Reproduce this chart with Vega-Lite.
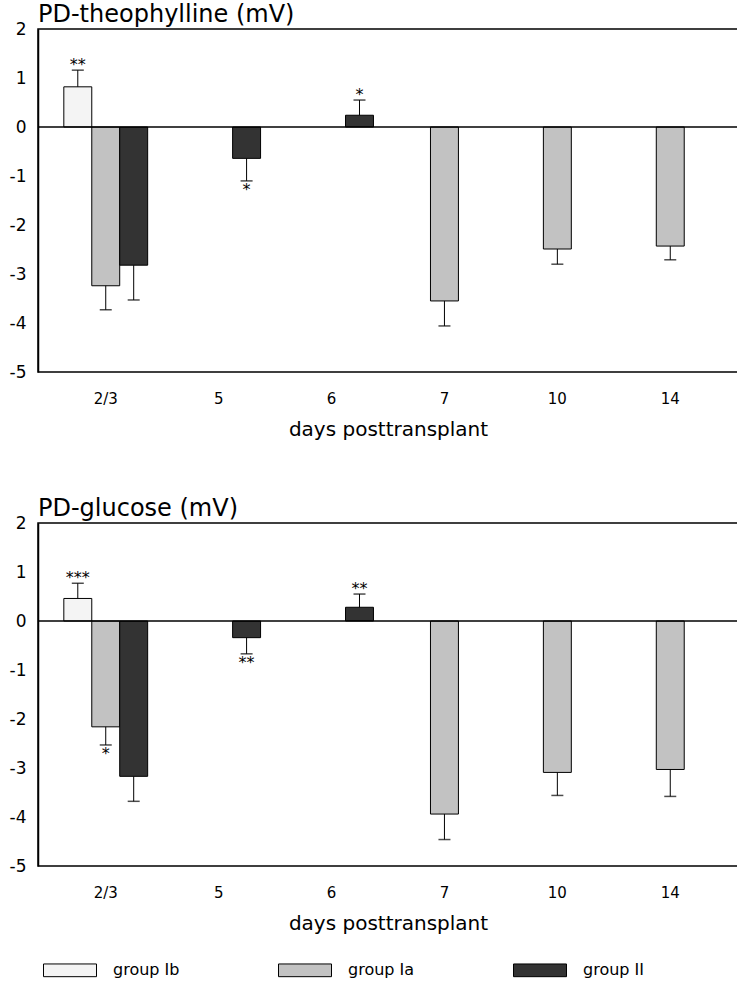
{
  "$schema": "https://vega.github.io/schema/vega-lite/v6.json",
  "padding": {"left": 8, "top": 2, "right": 0, "bottom": 0},
  "background": "white",
  "config": {
    "font": "DejaVu Sans",
    "view": {"stroke": "#000", "strokeWidth": 1.5},
    "axis": {"grid": false, "labelColor": "#000", "titleColor": "#000"},
    "concat": {"spacing": 56}
  },
  "resolve": {"scale": {"x": "independent", "y": "independent", "xOffset": "independent"}},
  "data": {
    "values": [
      {"panel": "theo", "day": "2/3", "group": "group Ib", "value": 0.82, "err": 1.16, "sig": "**"},
      {"panel": "theo", "day": "2/3", "group": "group Ia", "value": -3.24, "err": -3.73, "sig": ""},
      {"panel": "theo", "day": "2/3", "group": "group II", "value": -2.82, "err": -3.53, "sig": ""},
      {"panel": "theo", "day": "5", "group": "group II", "value": -0.64, "err": -1.1, "sig": "*"},
      {"panel": "theo", "day": "6", "group": "group II", "value": 0.24, "err": 0.55, "sig": "*"},
      {"panel": "theo", "day": "7", "group": "group Ia", "value": -3.55, "err": -4.06, "sig": ""},
      {"panel": "theo", "day": "10", "group": "group Ia", "value": -2.49, "err": -2.8, "sig": ""},
      {"panel": "theo", "day": "14", "group": "group Ia", "value": -2.43, "err": -2.71, "sig": ""},
      {"panel": "gluc", "day": "2/3", "group": "group Ib", "value": 0.46, "err": 0.77, "sig": "***"},
      {"panel": "gluc", "day": "2/3", "group": "group Ia", "value": -2.16, "err": -2.53, "sig": "*"},
      {"panel": "gluc", "day": "2/3", "group": "group II", "value": -3.17, "err": -3.68, "sig": ""},
      {"panel": "gluc", "day": "5", "group": "group II", "value": -0.34, "err": -0.67, "sig": "**"},
      {"panel": "gluc", "day": "6", "group": "group II", "value": 0.28, "err": 0.55, "sig": "**"},
      {"panel": "gluc", "day": "7", "group": "group Ia", "value": -3.94, "err": -4.46, "sig": ""},
      {"panel": "gluc", "day": "10", "group": "group Ia", "value": -3.09, "err": -3.56, "sig": ""},
      {"panel": "gluc", "day": "14", "group": "group Ia", "value": -3.03, "err": -3.58, "sig": ""}
    ]
  },
  "vconcat": [
    {
      "width": 700,
      "height": 343,
      "title": {"text": "PD-theophylline (mV)", "anchor": "start", "frame": "group", "font": "DejaVu Sans", "fontSize": 24, "fontWeight": "normal", "color": "#000", "offset": -7},
      "layer": [
        {
          "transform": [{"filter": "datum.panel === 'theo'"}],
          "encoding": {
            "x": {"field": "day", "type": "nominal", "sort": ["2/3", "5", "6", "7", "10", "14"],
              "scale": {"paddingInner": 0, "paddingOuter": 0.1},
              "axis": {"title": "days posttransplant", "labelAngle": 0, "ticks": false, "domain": false, "labelFontSize": 15, "labelPadding": 19, "titleFontSize": 20, "titleFontWeight": "normal", "titlePadding": 13}},
            "xOffset": {"field": "group", "type": "nominal", "scale": {"domain": ["group Ib", "group Ia", "group II"], "paddingOuter": 0.52, "paddingInner": 0}}
          },
          "layer": [
            {
              "mark": {"type": "bar", "stroke": "#000", "strokeWidth": 1},
              "encoding": {
                "y": {"field": "value", "type": "quantitative", "scale": {"domain": [-5, 2], "nice": false},
                  "axis": {"title": null, "values": [-5, -4, -3, -2, -1, 0, 1, 2], "labelExpr": "datum.value < 0 ? '-' + abs(datum.value) : '' + datum.value", "ticks": false, "labelFontSize": 17, "labelPadding": 12, "domainColor": "#000", "domainWidth": 1.5}},
                "y2": {"datum": 0},
                "fill": {"field": "group", "type": "nominal",
                  "scale": {"domain": ["group Ib", "group Ia", "group II"], "range": ["#f4f4f4", "#c2c2c2", "#333333"]},
                  "legend": {"title": null, "orient": "none", "legendX": 5, "legendY": 914, "direction": "horizontal", "columns": 3,
                    "symbolType": "M-1,-0.24H1V0.24H-1Z", "symbolSize": 2809, "symbolStrokeColor": "#000", "symbolStrokeWidth": 1,
                    "labelFont": "DejaVu Sans", "labelFontSize": 16, "labelColor": "#000", "labelOffset": 16, "columnPadding": 96}}
              }
            },
            {
              "mark": {"type": "rule", "stroke": "#000", "strokeWidth": 1},
              "encoding": {"y": {"field": "value", "type": "quantitative"}, "y2": {"field": "err"}}
            },
            {
              "mark": {"type": "tick", "orient": "horizontal", "size": 12, "thickness": 1.5, "color": "#000"},
              "encoding": {"y": {"field": "err", "type": "quantitative"}}
            },
            {
              "transform": [{"filter": "datum.value > 0"}],
              "mark": {"type": "text", "baseline": "alphabetic", "dy": 0, "fontSize": 16, "color": "#000"},
              "encoding": {"y": {"field": "err", "type": "quantitative"}, "text": {"field": "sig"}}
            },
            {
              "transform": [{"filter": "datum.value < 0"}],
              "mark": {"type": "text", "baseline": "top", "dy": 1, "fontSize": 16, "color": "#000"},
              "encoding": {"y": {"field": "err", "type": "quantitative"}, "text": {"field": "sig"}}
            }
          ]
        },
        {
          "data": {"values": [{}]},
          "mark": {"type": "rule", "stroke": "#000", "strokeWidth": 1.5},
          "encoding": {"y": {"datum": 0}}
        }
      ]
    },
    {
      "width": 700,
      "height": 343,
      "title": {"text": "PD-glucose (mV)", "anchor": "start", "frame": "group", "font": "DejaVu Sans", "fontSize": 24, "fontWeight": "normal", "color": "#000", "offset": -7},
      "layer": [
        {
          "transform": [{"filter": "datum.panel === 'gluc'"}],
          "encoding": {
            "x": {"field": "day", "type": "nominal", "sort": ["2/3", "5", "6", "7", "10", "14"],
              "scale": {"paddingInner": 0, "paddingOuter": 0.1},
              "axis": {"title": "days posttransplant", "labelAngle": 0, "ticks": false, "domain": false, "labelFontSize": 15, "labelPadding": 19, "titleFontSize": 20, "titleFontWeight": "normal", "titlePadding": 13}},
            "xOffset": {"field": "group", "type": "nominal", "scale": {"domain": ["group Ib", "group Ia", "group II"], "paddingOuter": 0.52, "paddingInner": 0}}
          },
          "layer": [
            {
              "mark": {"type": "bar", "stroke": "#000", "strokeWidth": 1},
              "encoding": {
                "y": {"field": "value", "type": "quantitative", "scale": {"domain": [-5, 2], "nice": false},
                  "axis": {"title": null, "values": [-5, -4, -3, -2, -1, 0, 1, 2], "labelExpr": "datum.value < 0 ? '-' + abs(datum.value) : '' + datum.value", "ticks": false, "labelFontSize": 17, "labelPadding": 12, "domainColor": "#000", "domainWidth": 1.5}},
                "y2": {"datum": 0},
                "fill": {"field": "group", "type": "nominal",
                  "scale": {"domain": ["group Ib", "group Ia", "group II"], "range": ["#f4f4f4", "#c2c2c2", "#333333"]}}
              }
            },
            {
              "mark": {"type": "rule", "stroke": "#000", "strokeWidth": 1},
              "encoding": {"y": {"field": "value", "type": "quantitative"}, "y2": {"field": "err"}}
            },
            {
              "mark": {"type": "tick", "orient": "horizontal", "size": 12, "thickness": 1.5, "color": "#000"},
              "encoding": {"y": {"field": "err", "type": "quantitative"}}
            },
            {
              "transform": [{"filter": "datum.value > 0"}],
              "mark": {"type": "text", "baseline": "alphabetic", "dy": 0, "fontSize": 16, "color": "#000"},
              "encoding": {"y": {"field": "err", "type": "quantitative"}, "text": {"field": "sig"}}
            },
            {
              "transform": [{"filter": "datum.value < 0"}],
              "mark": {"type": "text", "baseline": "top", "dy": 1, "fontSize": 16, "color": "#000"},
              "encoding": {"y": {"field": "err", "type": "quantitative"}, "text": {"field": "sig"}}
            }
          ]
        },
        {
          "data": {"values": [{}]},
          "mark": {"type": "rule", "stroke": "#000", "strokeWidth": 1.5},
          "encoding": {"y": {"datum": 0}}
        }
      ]
    }
  ]
}
